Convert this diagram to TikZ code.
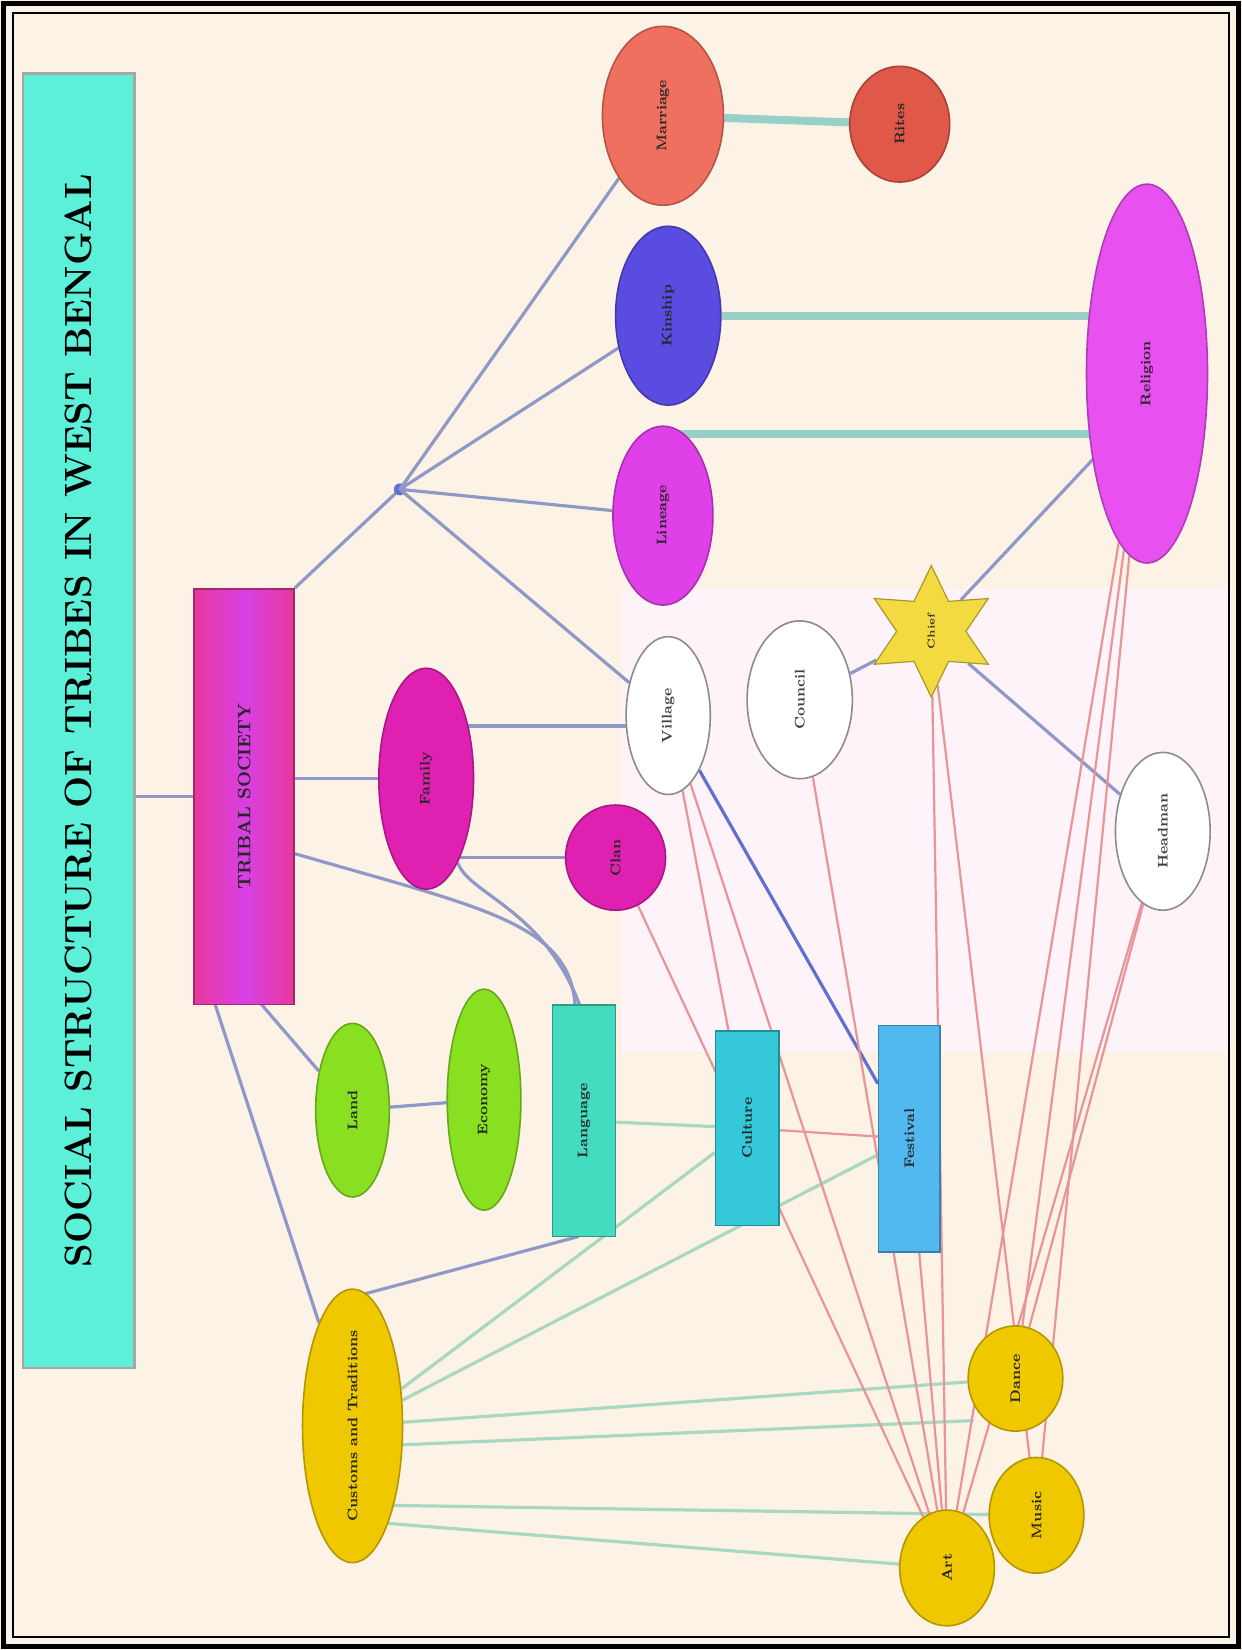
\documentclass[tikz,border=0pt]{standalone}
\usetikzlibrary{shapes.geometric,calc}
\pgfdeclarelayer{bg}\pgfdeclarelayer{edges}\pgfsetlayers{bg,edges,main}
\definecolor{paper}{HTML}{FCF2E6}
\definecolor{paper2}{HTML}{FDF3F8}
\definecolor{titlec}{HTML}{5CF0D8}
\definecolor{pinkA}{HTML}{E8389C}
\definecolor{pinkB}{HTML}{D840E4}
\definecolor{magc}{HTML}{E020B0}
\definecolor{violc}{HTML}{E040E8}
\definecolor{bluec}{HTML}{5A4CE0}
\definecolor{redc}{HTML}{F07060}
\definecolor{redd}{HTML}{E05848}
\definecolor{bigm}{HTML}{E850F0}
\definecolor{greenc}{HTML}{88E020}
\definecolor{tealA}{HTML}{44DCC0}
\definecolor{tealB}{HTML}{34C8D8}
\definecolor{skyc}{HTML}{52B8F0}
\definecolor{yelc}{HTML}{F0C800}
\definecolor{starc}{HTML}{F2DA40}
\definecolor{gb}{HTML}{9098C8}
\definecolor{thick}{HTML}{98D0C8}
\definecolor{redl}{HTML}{E89498}
\definecolor{grl}{HTML}{A8D8C0}
\definecolor{bll}{HTML}{6070D0}
\begin{document}
\begin{tikzpicture}[x={(0.52627pt,0)},y={(0,-0.52627pt)},
  sz/.style 2 args={minimum width=#1*0.52627pt,minimum height=#2*0.52627pt},
  el/.style={ellipse,rotate=90,inner sep=0pt,draw=#1!75!black,fill=#1,line width=0.8pt,font=\bfseries\scriptsize,text=black!85},
  wel/.style={ellipse,rotate=90,inner sep=0pt,draw=black!45,fill=white,line width=0.8pt,font=\bfseries\scriptsize,text=black!75},
  bx/.style={rectangle,rotate=90,inner sep=0pt,draw=#1!70!black,fill=#1,line width=0.8pt,font=\bfseries\scriptsize,text=black!85},
  gl/.style={draw=gb,line width=1.6pt},
  tk/.style={draw=thick,line width=4pt},
  rl/.style={draw=redl,line width=1.1pt},
  gr/.style={draw=grl,line width=1.6pt},
  bl/.style={draw=bll,line width=1.6pt}]
\path[use as bounding box] (0,0) rectangle (1180,1568);
\begin{pgfonlayer}{bg}
\fill[paper] (0,0) rectangle (1180,1568);
\fill[paper2] (590,560) rectangle (1170,1000);
\draw[line width=2.5pt] (3,3) rectangle (1177,1565);
\draw[line width=1pt] (12,12) rectangle (1168,1556);
\end{pgfonlayer}

% nodes
\node[rectangle,rotate=90,inner sep=0pt,fill=titlec,draw=black!35,line width=1.2pt,sz={1230}{106},font=\bfseries\fontsize{19}{23}\selectfont,text=black] (title) at (75,685) {SOCIAL STRUCTURE OF TRIBES IN WEST BENGAL};
\node[rectangle,rotate=90,sz={395}{95},left color=pinkA,right color=pinkA,middle color=pinkB,draw=pinkA!70!black,line width=0.8pt,font=\bfseries\small,text=black!85] (P) at (232,757) {TRIBAL SOCIETY};
\node[el=magc,sz={210}{90}] (mE) at (405,740) {Family};
\node[el=magc,sz={100}{95}] (mC) at (585,815) {Clan};
\node[wel,sz={150}{80}] (w1) at (635,680) {Village};
\node[wel,sz={150}{100}] (w2) at (760,665) {Council};
\node[wel,sz={150}{90}] (w3) at (1105,790) {Headman};
\node[star,star points=6,star point ratio=1.9,minimum size=125*0.52627pt,inner sep=0pt,fill=starc,draw=starc!70!black,line width=0.6pt,font=\bfseries\tiny,text=black!80] (S) at (885,600) {\rotatebox{90}{Chief}};
\node[el=violc,sz={170}{95}] (vE) at (630,490) {Lineage};
\node[el=bluec,sz={170}{100}] (bE) at (635,300) {Kinship};
\node[el=redc,sz={170}{115}] (rE) at (630,110) {Marriage};
\node[el=redd,sz={110}{95}] (rC) at (855,118) {Rites};
\node[el=bigm,sz={360}{115}] (BM) at (1090,355) {Religion};
\coordinate (hub) at (380,465);
\node[el=greenc,sz={165}{70}] (g1) at (335,1055) {Land};
\node[el=greenc,sz={210}{70}] (g2) at (460,1045) {Economy};
\node[bx=tealA,sz={220}{60}] (t1) at (555,1065) {Language};
\node[bx=tealB,sz={185}{60}] (t2) at (710,1072) {Culture};
\node[bx=skyc,sz={215}{58}] (t3) at (864,1082) {Festival};
\node[el=yelc,sz={260}{95}] (Y) at (335,1355) {Customs and Traditions};
\node[el=yelc,sz={100}{90}] (y1) at (965,1310) {Dance};
\node[el=yelc,sz={110}{90}] (y2) at (985,1440) {Music};
\node[el=yelc,sz={110}{90}] (y3) at (900,1490) {Art};

\begin{pgfonlayer}{edges}
\draw[gl] (title |- P) -- (P);
\draw[gl] (P |- mE) -- (mE);
\draw[gl] (mE |- mC) -- (mC);
\draw[gl] (P.south east) -- (hub);
\fill[bll] (hub) circle (3pt);
\draw[gl] (hub) -- (rE);
\draw[gl] (hub) -- (bE);
\draw[gl] (hub) -- (vE);
\draw[gl] (hub) -- (w1);
\draw[tk] (bE) -- (bE -| BM);
\draw[tk] ($(vE)+(0,-78)$) -- ($(BM)+(0,57)$);
\draw[tk] (rE) -- (rC);
\draw[gl] ($(mE)+(0,-50)$) -- ($(w1)+(0,10)$);
\draw[gl] (S) -- ($(BM)+(-50,80)$);
\draw[gl] (S) -- (w3);
\draw[gl] (S) -- (w2);
\draw[bl] (w1) -- (t3);
\draw[gl] ($(P)+(0,40)$) .. controls (440,860) and (540,870) .. (t1);
\draw[gl] (mE) .. controls (450,860) and (565,870) .. ($(t1)+(15,0)$);
\draw[gl] ($(P)+(10,190)$) -- (g1);
\draw[gl] (g1) -- (g2);
\draw[gr] (t1) -- (t2);
\draw[rl] (t2) -- (t3);
\draw[gl] ($(P)+(-30,190)$) -- (Y);
\draw[gl] ($(t1)+(-5,110)$) -- ($(Y)+(10,-125)$);
\draw[gr] (t2) -- (Y);
\draw[gr] (t3) -- (Y);
\draw[gr] (Y) -- (y1);
\draw[gr] ($(Y)+(0,20)$) -- ($(y1)+(-40,40)$);
\draw[gr] ($(Y)+(0,75)$) -- (y2);
\draw[gr] ($(Y)+(0,90)$) -- (y3);
\draw[rl] (w1) -- (t2);
\draw[rl] (w1) -- (y3);
\draw[rl] (w2) -- (y3);
\draw[rl] (S) -- (y3);
\draw[rl] (S) -- (y2);
\draw[rl] (BM) -- (y3);
\draw[rl] (BM) -- (y2);
\draw[rl] (BM) -- (y1);
\draw[rl] (w3) -- (y3);
\draw[rl] (w3) -- (y1);
\draw[rl] (t3) -- (y3);
\draw[rl] (mC) -- (y3);
\end{pgfonlayer}
\end{tikzpicture}
\end{document}
